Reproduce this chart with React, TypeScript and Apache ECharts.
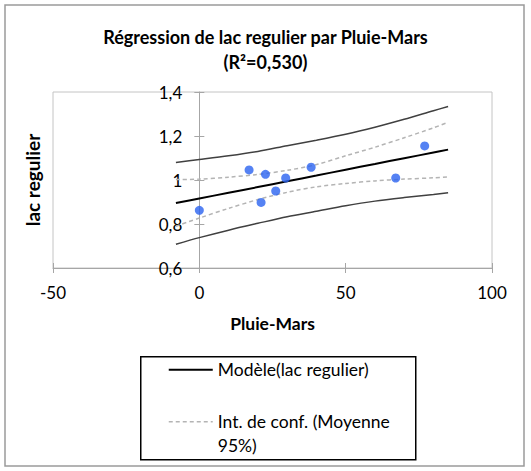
import React, { useEffect, useRef } from "react";
import * as echarts from "echarts";

const TITLE = "Régression de lac regulier par Pluie-Mars\n(R²=0,530)";
const X_NAME = "Pluie-Mars";
const Y_NAME = "lac regulier";
const MODEL_NAME = "Modèle(lac regulier)";
const CONF_NAME = "Int. de conf. (Moyenne\n95%)";
const PRED_NAME = "Int. de conf. (Obs. 95%)";

const X_MIN = -50;
const X_MAX = 100;
const X_STEP = 50;
const Y_MIN = 0.6;
const Y_MAX = 1.4;
const Y_STEP = 0.2;
const Y_AXIS_AT_X = 0;

// observations
const obsX = [0, 17.0, 22.6, 21.1, 26.1, 29.5, 38.2, 67.1, 77.0];
const obsY = [0.862, 1.046, 1.026, 0.898, 0.95, 1.009, 1.058, 1.009, 1.155];

// curves
const curveX = [-8, 0, 10, 20, 30, 40, 50, 60, 70, 80, 85];
const modelY = [0.895, 0.916, 0.942, 0.968, 0.994, 1.02, 1.047, 1.073, 1.099, 1.125, 1.138];
const confUpperY = [1.002, 1.004, 1.013, 1.025, 1.044, 1.07, 1.11, 1.149, 1.192, 1.237, 1.263];
const confLowerY = [0.79, 0.827, 0.871, 0.911, 0.944, 0.969, 0.984, 0.996, 1.004, 1.01, 1.014];
const predUpperY = [1.08, 1.093, 1.11, 1.13, 1.156, 1.181, 1.208, 1.24, 1.276, 1.315, 1.334];
const predLowerY = [0.708, 0.738, 0.772, 0.803, 0.833, 0.858, 0.883, 0.904, 0.92, 0.934, 0.942];

const FONT = "Lato";
const AXIS_COLOR = "#a6a6a6";
const W = 531;
const H = 471;
const G_LEFT = 53;
const G_RIGHT = 39;
const G_TOP = 92;
const G_BOTTOM = 203;

const zip = (xs: number[], ys: number[]) => xs.map((x, i) => [x, ys[i]]);

export default function App() {
  const ref = useRef<HTMLDivElement>(null);

  useEffect(() => {
    if (!ref.current) return;
    const chart = echarts.init(ref.current, undefined, { renderer: "svg" });

    const fmtY = (v: number) => String(Math.round(v * 10) / 10).replace(".", ",");
    // pixel position of x = 0 inside the main grid (where the y axis crosses)
    const zeroLeft = G_LEFT + ((Y_AXIS_AT_X - X_MIN) / (X_MAX - X_MIN)) * (W - G_LEFT - G_RIGHT);

    const lineSeries = (name: string, ys: number[], color: string, width: number, type: any, z = 2) => ({
      type: "line",
      name,
      xAxisIndex: 0,
      yAxisIndex: 0,
      data: zip(curveX, ys),
      showSymbol: false,
      symbol: "none",
      smooth: 0.3,
      lineStyle: { color, width, type },
      itemStyle: { color },
      z,
    });

    const tickStyle = { color: AXIS_COLOR };

    const option: any = {
      animation: false,
      backgroundColor: "#fff",
      title: {
        text: TITLE,
        left: "center",
        top: 19,
        textStyle: { fontFamily: FONT, fontSize: 18, fontWeight: "bold", lineHeight: 25, color: "#000" },
      },
      grid: [
        {
          left: G_LEFT,
          right: G_RIGHT,
          top: G_TOP,
          bottom: G_BOTTOM,
          outerBoundsMode: "none",
          show: true,
          borderColor: "#c4c4c4",
          borderWidth: 1,
          backgroundColor: "transparent",
        },
        {
          left: zeroLeft,
          right: G_RIGHT,
          top: G_TOP,
          bottom: G_BOTTOM,
          outerBoundsMode: "none",
          show: false,
        },
      ],
      xAxis: [
        {
          gridIndex: 0,
          type: "value",
          min: X_MIN,
          max: X_MAX,
          interval: X_STEP,
          position: "bottom",
          axisLine: { show: true, onZero: false, lineStyle: { color: AXIS_COLOR } },
          axisTick: { show: true, length: 5, lineStyle: tickStyle },
          axisLabel: { color: "#000", fontSize: 17, fontFamily: FONT, margin: 16 },
          splitLine: { show: false },
          name: X_NAME,
          nameLocation: "middle",
          nameGap: 46,
          nameTextStyle: { fontFamily: FONT, fontSize: 17.5, fontWeight: "bold", color: "#000" },
        },
        {
          gridIndex: 0,
          type: "value",
          min: X_MIN,
          max: X_MAX,
          interval: X_STEP,
          position: "bottom",
          axisLine: { show: false, onZero: false },
          axisTick: { show: true, inside: true, length: 5, lineStyle: tickStyle },
          axisLabel: { show: false },
          splitLine: { show: false },
        },
        {
          gridIndex: 1,
          type: "value",
          min: Y_AXIS_AT_X,
          max: X_MAX,
          show: false,
        },
      ],
      yAxis: [
        {
          gridIndex: 0,
          type: "value",
          min: Y_MIN,
          max: Y_MAX,
          interval: Y_STEP,
          show: false,
        },
        {
          gridIndex: 1,
          type: "value",
          min: Y_MIN,
          max: Y_MAX,
          interval: Y_STEP,
          position: "left",
          axisLine: { show: true, onZero: false, lineStyle: { color: AXIS_COLOR } },
          axisTick: { show: true, length: 5, lineStyle: tickStyle },
          axisLabel: { color: "#000", fontSize: 17, fontFamily: FONT, margin: 17, formatter: fmtY },
          splitLine: { show: false },
          name: Y_NAME,
          nameLocation: "middle",
          nameGap: 157,
          nameRotate: 90,
          nameTextStyle: { fontFamily: FONT, fontSize: 19, fontWeight: "bold", color: "#000" },
        },
        {
          gridIndex: 1,
          type: "value",
          min: Y_MIN,
          max: Y_MAX,
          interval: Y_STEP,
          position: "left",
          axisLine: { show: false, onZero: false },
          axisTick: { show: true, inside: true, length: 5, lineStyle: tickStyle },
          axisLabel: { show: false },
          splitLine: { show: false },
        },
      ],
      series: [
        lineSeries(PRED_NAME, predUpperY, "#404040", 1.5, "solid"),
        lineSeries(PRED_NAME, predLowerY, "#404040", 1.5, "solid"),
        lineSeries(CONF_NAME, confUpperY, "#b4b4b4", 1.5, [4, 3]),
        lineSeries(CONF_NAME, confLowerY, "#b4b4b4", 1.5, [4, 3]),
        lineSeries(MODEL_NAME, modelY, "#000000", 2, "solid", 3),
        {
          type: "scatter",
          name: Y_NAME,
          xAxisIndex: 0,
          yAxisIndex: 0,
          data: zip(obsX, obsY),
          symbol: "circle",
          symbolSize: 9,
          itemStyle: { color: "#2b63f0" },
          z: 5,
        },
      ],
      graphic: [
        {
          type: "rect",
          shape: { x: 5, y: 5, width: 519, height: 461 },
          style: { fill: "none", stroke: "#9a9a9a", lineWidth: 1.5 },
          silent: true,
        },
        {
          type: "group",
          left: 140,
          top: 356,
          children: [
            {
              type: "rect",
              shape: { x: 0, y: 0, width: 275, height: 103 },
              style: { fill: "#fff", stroke: "#000", lineWidth: 1.5 },
            },
            {
              type: "line",
              shape: { x1: 28, y1: 13, x2: 72, y2: 13 },
              style: { stroke: "#000", lineWidth: 2 },
            },
            {
              type: "text",
              x: 77,
              y: 13,
              style: { text: MODEL_NAME, fontFamily: FONT, fontSize: 17.5, fill: "#000", verticalAlign: "middle" },
            },
            {
              type: "line",
              shape: { x1: 28, y1: 65, x2: 72, y2: 65 },
              style: { stroke: "#b4b4b4", lineWidth: 1.5, lineDash: [4, 3] },
            },
            {
              type: "text",
              x: 77,
              y: 53,
              style: { text: CONF_NAME, fontFamily: FONT, fontSize: 17.5, lineHeight: 24, fill: "#000", verticalAlign: "top" },
            },
          ],
        },
      ],
    };

    chart.setOption(option);
    return () => chart.dispose();
  }, []);

  return <div ref={ref} style={{ position: "fixed", left: 0, top: 0, width: W, height: H }} />;
}
